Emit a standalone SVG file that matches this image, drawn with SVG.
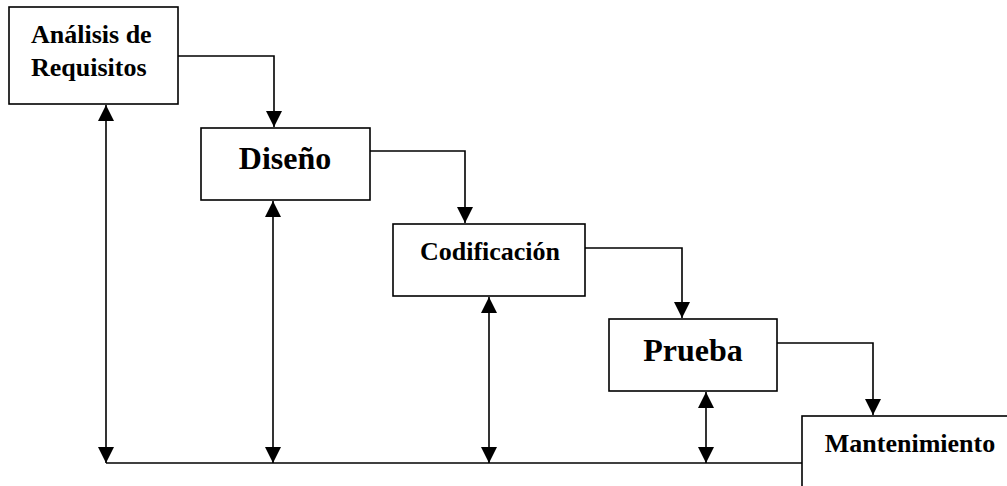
<svg xmlns="http://www.w3.org/2000/svg" width="1007" height="486" viewBox="0 0 1007 486">
  <style>
    .box { fill: #ffffff; stroke: #000000; stroke-width: 1.6; }
    .lbl { font-family: "Liberation Serif", "Times New Roman", serif; font-weight: bold; fill: #000000; }
    .sm { font-size: 26px; }
    .lg { font-size: 32px; }
    .wire { fill: none; stroke: #000000; stroke-width: 1.6; }
  </style>
  <defs>
    <marker id="tip" markerUnits="userSpaceOnUse" markerWidth="16" markerHeight="16" viewBox="0 0 16 16" refX="16" refY="8" orient="auto-start-reverse">
      <path d="M0,0 L16,8 L0,16 Z" fill="#000000"/>
    </marker>
  </defs>

  <g id="connectors">
    <!-- forward flow between phases -->
    <polyline class="wire" points="178,56 274,56 274,127" marker-end="url(#tip)"/>
    <polyline class="wire" points="370,151 465,151 465,223" marker-end="url(#tip)"/>
    <polyline class="wire" points="585,248 682,248 682,318" marker-end="url(#tip)"/>
    <polyline class="wire" points="777,343 873,343 873,415" marker-end="url(#tip)"/>
    <!-- feedback bus -->
    <line class="wire" x1="106" y1="463" x2="802" y2="463"/>
    <line class="wire" x1="106" y1="105" x2="106" y2="463" marker-start="url(#tip)" marker-end="url(#tip)"/>
    <line class="wire" x1="273" y1="201" x2="273" y2="463" marker-start="url(#tip)" marker-end="url(#tip)"/>
    <line class="wire" x1="489" y1="297" x2="489" y2="463" marker-start="url(#tip)" marker-end="url(#tip)"/>
    <line class="wire" x1="706" y1="392" x2="706" y2="463" marker-start="url(#tip)" marker-end="url(#tip)"/>
  </g>

  <g id="analisis">
    <rect class="box" x="9" y="7" width="169" height="97"/>
    <text class="lbl sm" x="31" y="43">Análisis de</text>
    <text class="lbl sm" x="31" y="76">Requisitos</text>
  </g>

  <g id="diseno">
    <rect class="box" x="201" y="128" width="169" height="72"/>
    <text class="lbl lg" x="285" y="169" text-anchor="middle">Diseño</text>
  </g>

  <g id="codificacion">
    <rect class="box" x="393" y="224" width="192" height="72"/>
    <text class="lbl sm" x="490" y="260" text-anchor="middle">Codificación</text>
  </g>

  <g id="prueba">
    <rect class="box" x="609" y="319" width="168" height="72"/>
    <text class="lbl lg" x="693" y="361" text-anchor="middle">Prueba</text>
  </g>

  <g id="mantenimiento">
    <rect class="box" x="802" y="416" width="215" height="90"/>
    <text class="lbl sm" x="910" y="452" text-anchor="middle">Mantenimiento</text>
  </g>
</svg>
